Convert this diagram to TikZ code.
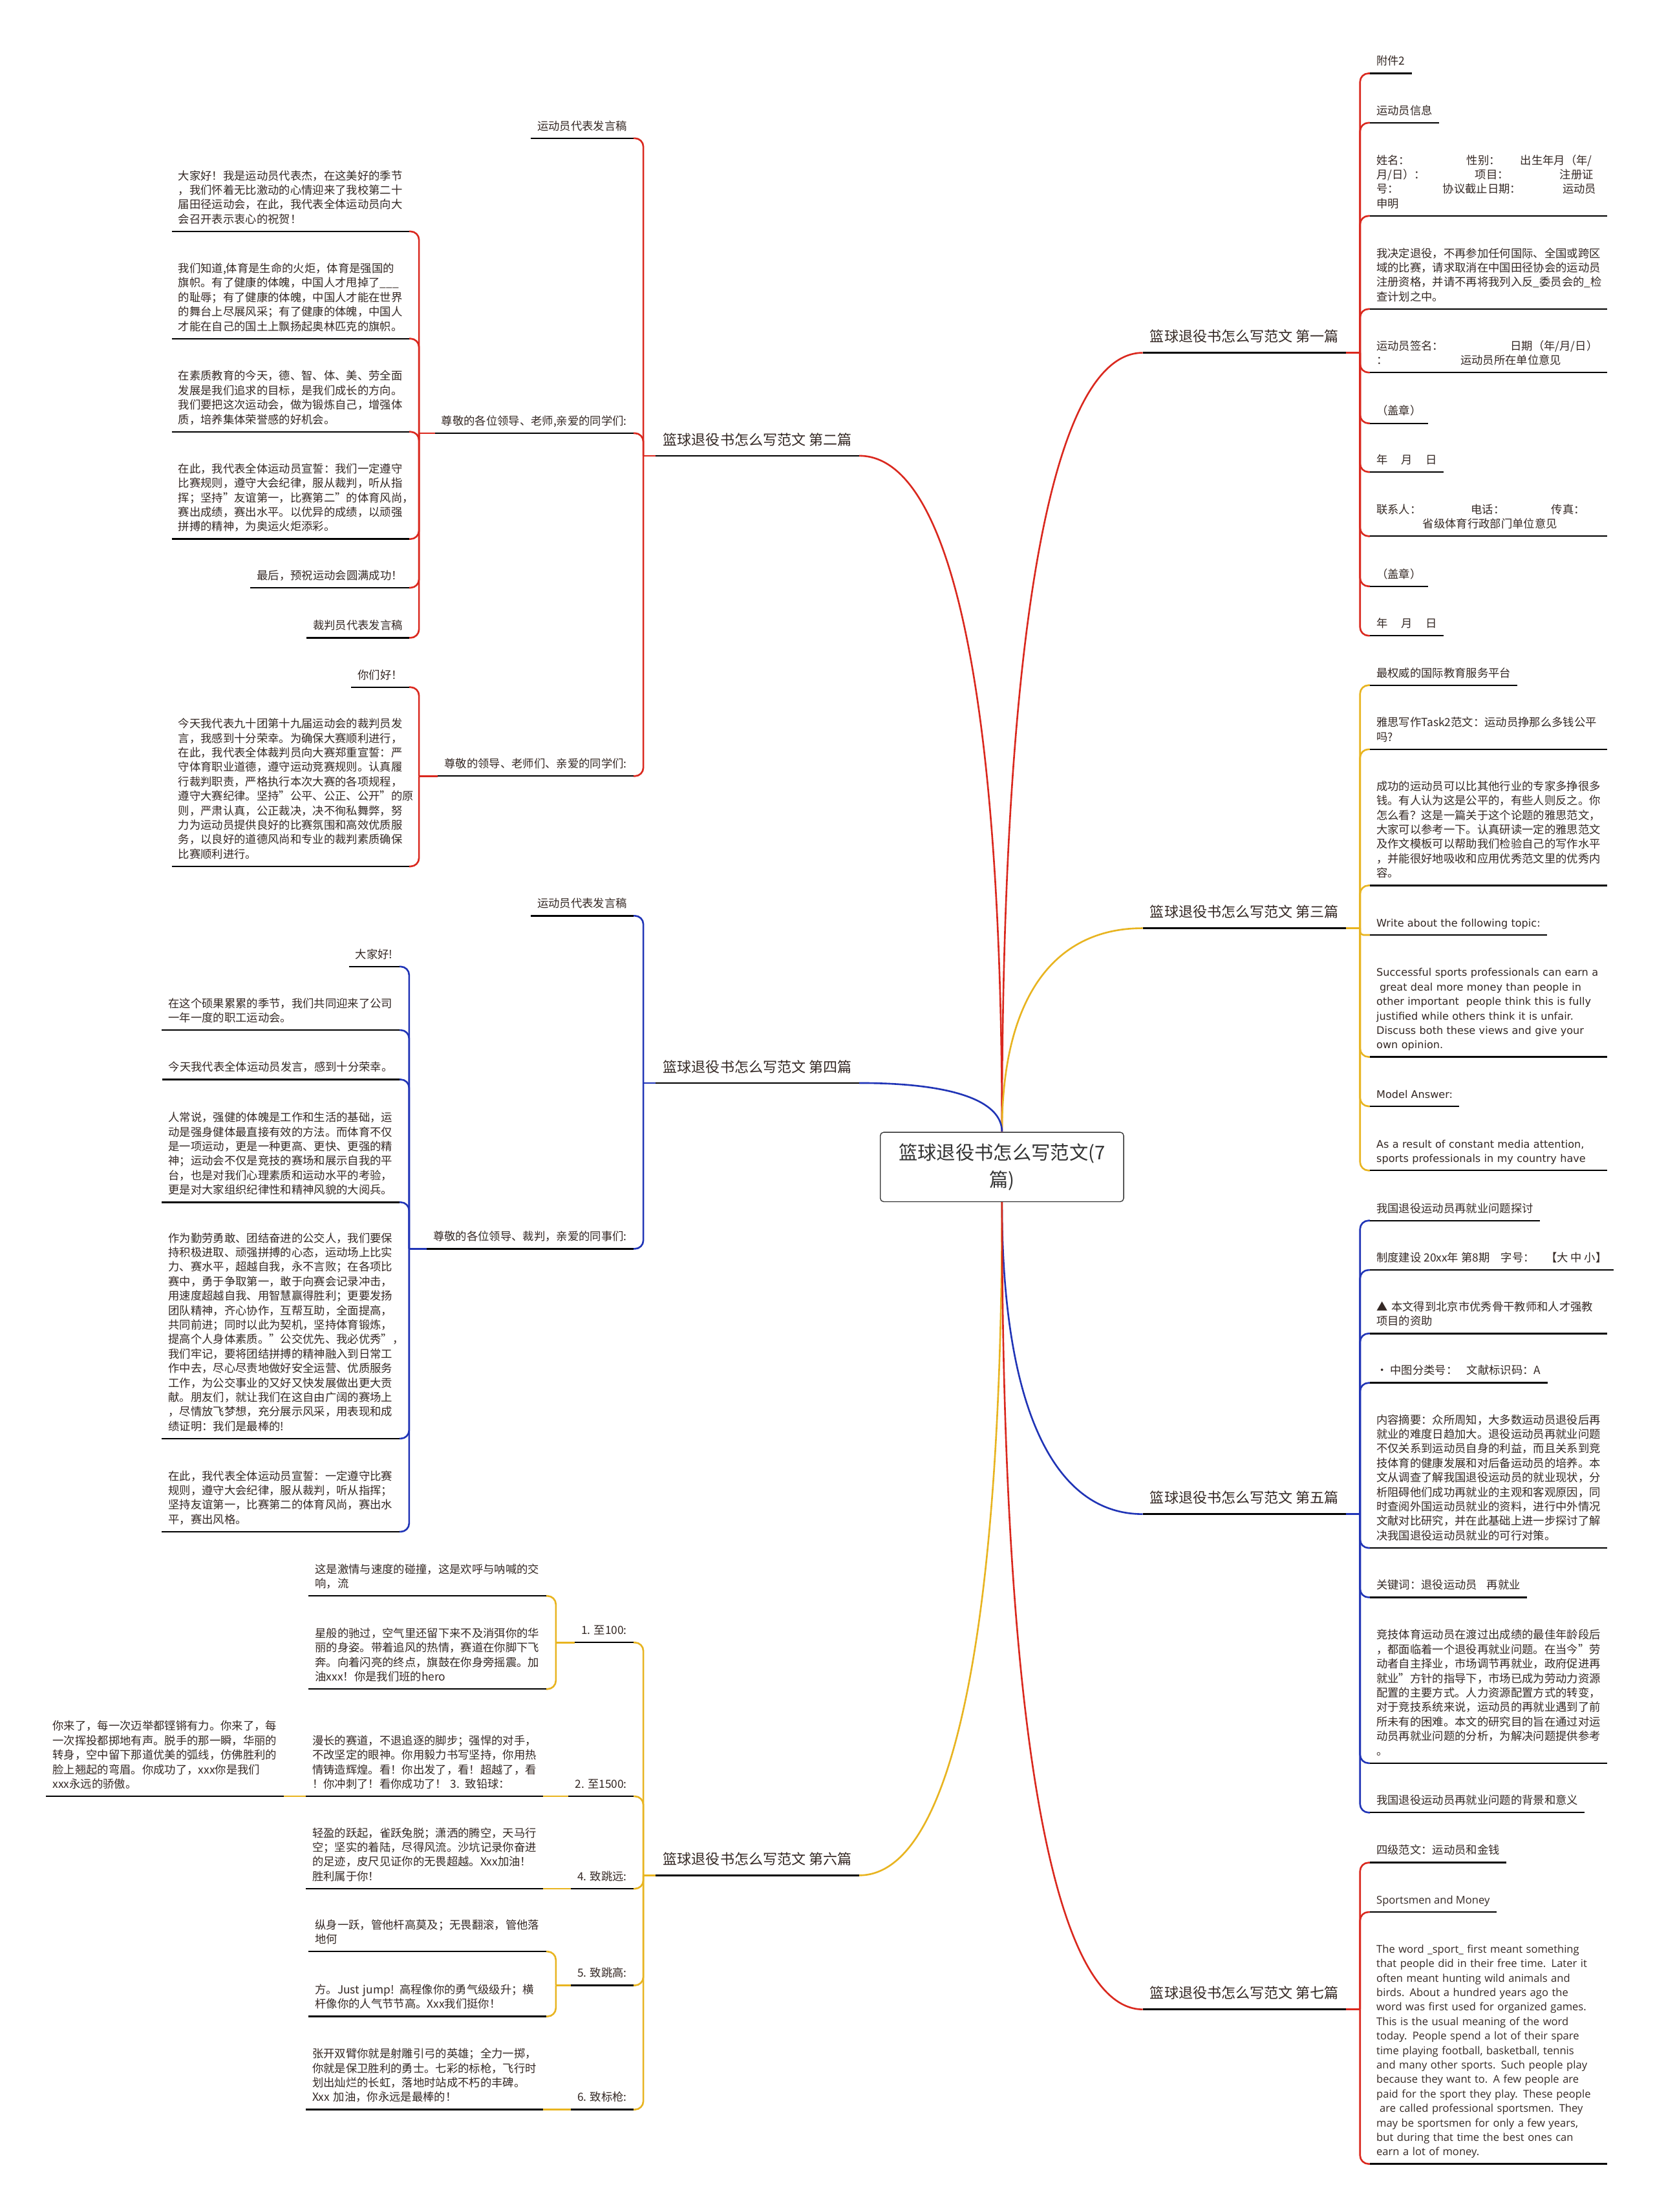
\documentclass[tikz,border=0pt]{standalone}
\usepackage{fontspec}
\setmainfont{Noto Sans CJK SC}
\newfontfamily\verd{DejaVu Sans}
\newfontfamily\opsans{Open Sans}
\usetikzlibrary{calc}
\definecolor{txt}{RGB}{52,40,36}
\definecolor{rd}{RGB}{218,40,30}
\definecolor{yl}{RGB}{232,180,32}
\definecolor{bl}{RGB}{32,52,182}
\tikzset{
  leaf/.style={inner xsep=2.25mm, inner ysep=3.7pt, align=left, text=txt,
    font=\fontsize{11.3pt}{14.6pt}\selectfont, execute at end node=\strut},
  blk/.style={leaf, text width=79.5mm},
  sec/.style={leaf, inner xsep=2.5mm, inner ysep=5.6pt, font=\fontsize{14.4pt}{17.3pt}\selectfont},
  enA/.style={font=\verd\fontsize{10.5pt}{14.6pt}\selectfont},
  enB/.style={font=\opsans\fontsize{10.8pt}{14.6pt}\selectfont, execute at begin node={\hyphenpenalty=10000\relax}},
  ul/.style={draw=black, line width=0.55mm},
  redln/.style={draw=rd, line width=0.6mm, rounded corners=3mm},
  yelln/.style={draw=yl, line width=0.6mm, rounded corners=3mm},
  bluln/.style={draw=bl, line width=0.6mm, rounded corners=3mm},
  trunk/.style={to path={.. controls ($(\tikztostart)!.64!(\tikztostart|-\tikztotarget)$) and ($(\tikztostart|-\tikztotarget)!.35!(\tikztotarget)$) .. (\tikztotarget)}}
}
\begin{document}
\begin{tikzpicture}[x=0.5mm,y=-0.5mm]
\fill[white] (0,0) rectangle (1173,1567.6);
\useasboundingbox (0,0) rectangle (1173,1567.6);

\node[draw=black!80, line width=0.3mm, rounded corners=1.2mm, fill=white, minimum width=86.25mm, minimum height=24.6mm,
  align=center, text=black!80, font=\fontsize{19.1pt}{27pt}\selectfont] (c) at (710.2,827) {篮球退役书怎么写范文(7\\篇)};

\node[sec, anchor=south west] (p1) at (810,250) {篮球退役书怎么写范文 第一篇};
\node[sec, anchor=south east] (p2) at (609,323) {篮球退役书怎么写范文 第二篇};
\node[sec, anchor=south west] (p3) at (810,657.8) {篮球退役书怎么写范文 第三篇};
\node[sec, anchor=south east] (p4) at (609,767.5) {篮球退役书怎么写范文 第四篇};
\node[sec, anchor=south west] (p5) at (810,1073) {篮球退役书怎么写范文 第五篇};
\node[sec, anchor=south east] (p6) at (609,1329) {篮球退役书怎么写范文 第六篇};
\node[sec, anchor=south west] (p7) at (810,1424) {篮球退役书怎么写范文 第七篇};

\node[leaf, anchor=south west] (p1a) at (971,52) {附件2};
\node[leaf, anchor=south west] (p1b) at (971,87) {运动员信息};
\node[blk, anchor=south west] (p1c) at (971,153) {\makebox[32mm][l]{姓名：}\makebox[19mm][l]{性别：}出生年月（年/\\\makebox[35mm][l]{月/日）：}\makebox[30mm][l]{项目：}注册证\\\makebox[23.5mm][l]{号：}\makebox[42.5mm][l]{协议截止日期：}运动员\\申明};
\node[blk, anchor=south west] (p1d) at (971,219) {我决定退役，不再参加任何国际、全国或跨区\\域的比赛，请求取消在中国田径协会的运动员\\注册资格，并请不再将我列入反\_委员会的\_检\\查计划之中。};
\node[blk, anchor=south west] (p1e) at (971,264) {\makebox[47.5mm][l]{运动员签名：}日期（年/月/日）\\\makebox[29.8mm][l]{：}运动员所在单位意见};
\node[leaf, anchor=south west] (p1f) at (971,300) {（盖章）};
\node[leaf, anchor=south west] (p1g) at (971,334.5) {年\hspace{1.2em}月\hspace{1.2em}日};
\node[blk, anchor=south west] (p1h) at (971,380) {\makebox[33.5mm][l]{联系人：}\makebox[28.5mm][l]{电话：}传真：\\\hspace*{16.4mm}省级体育行政部门单位意见};
\node[leaf, anchor=south west] (p1i) at (971,415.5) {（盖章）};
\node[leaf, anchor=south west] (p1j) at (971,450.5) {年\hspace{1.2em}月\hspace{1.2em}日};

\node[leaf, anchor=south west] (p3a) at (971,485.6) {最权威的国际教育服务平台};
\node[blk, anchor=south west] (p3b) at (971,531) {雅思写作Task2范文：运动员挣那么多钱公平\\吗?};
\node[blk, anchor=south west] (p3c) at (971,627.5) {成功的运动员可以比其他行业的专家多挣很多\\钱。有人认为这是公平的，有些人则反之。你\\怎么看？这是一篇关于这个论题的雅思范文，\\大家可以参考一下。认真研读一定的雅思范文\\及作文模板可以帮助我们检验自己的写作水平\\，并能很好地吸收和应用优秀范文里的优秀内\\容。};
\node[leaf, enA, anchor=south west] (p3d) at (971,662.6) {Write about the following topic:};
\node[blk, enA, anchor=south west] (p3e) at (971,749) {Successful sports professionals can earn a\\\hspace*{0.3em}great deal more money than people in\\other important\ \ people think this is fully\\justified while others think it is unfair.\\Discuss both these views and give your\\own opinion.};
\node[leaf, enA, anchor=south west] (p3f) at (971,784) {Model Answer:};
\node[blk, enA, anchor=south west] (p3g) at (971,829.5) {As a result of constant media attention,\\sports professionals in my country have};

\node[leaf, anchor=south west] (p5a) at (971,865) {我国退役运动员再就业问题探讨};
\node[leaf, anchor=south west] (p5b) at (971,900) {制度建设 20xx年 第8期\quad 字号：\quad【大 中 小】};
\node[blk, anchor=south west] (p5c) at (971,945) {▲ 本文得到北京市优秀骨干教师和人才强教\\项目的资助};
\node[leaf, anchor=south west] (p5d) at (971,980) {\makebox[32mm][l]{• 中图分类号：}文献标识码：A};
\node[blk, anchor=south west] (p5e) at (971,1097) {内容摘要：众所周知，大多数运动员退役后再\\就业的难度日趋加大。退役运动员再就业问题\\不仅关系到运动员自身的利益，而且关系到竞\\技体育的健康发展和对后备运动员的培养。本\\文从调查了解我国退役运动员的就业现状，分\\析阻碍他们成功再就业的主观和客观原因，同\\时查阅外国运动员就业的资料，进行中外情况\\文献对比研究，并在此基础上进一步探讨了解\\决我国退役运动员就业的可行对策。};
\node[leaf, anchor=south west] (p5f) at (971,1132) {关键词：退役运动员\hspace{0.85em}再就业};
\node[blk, anchor=south west] (p5g) at (971,1249.5) {竞技体育运动员在渡过出成绩的最佳年龄段后\\，都面临着一个退役再就业问题。在当今"劳\\动者自主择业，市场调节再就业，政府促进再\\就业"方针的指导下，市场已成为劳动力资源\\配置的主要方式。人力资源配置方式的转变，\\对于竞技系统来说，运动员的再就业遇到了前\\所未有的困难。本文的研究目的旨在通过对运\\动员再就业问题的分析，为解决问题提供参考\\。};
\node[leaf, anchor=south west] (p5h) at (971,1284.5) {我国退役运动员再就业问题的背景和意义};

\node[leaf, anchor=south west] (p7a) at (971,1320) {四级范文：运动员和金钱};
\node[leaf, enB, anchor=south west] (p7b) at (971,1355) {Sportsmen and Money};
\node[blk, enB, anchor=south west] (p7c) at (971,1533.5) {The word \_sport\_ first meant something\\that people did in their free time. Later it\\often meant hunting wild animals and\\birds. About a hundred years ago the\\word was first used for organized games.\\This is the usual meaning of the word\\today. People spend a lot of their spare\\time playing football, basketball, tennis\\and many other sports. Such people play\\because they want to. A few people are\\paid for the sport they play. These people\\\hspace*{0.3em}are called professional sportsmen. They\\may be sportsmen for only a few years,\\but during that time the best ones can\\earn a lot of money.};

\node[leaf, anchor=south east] (p2a) at (449,98) {运动员代表发言稿};
\node[leaf, anchor=south east] (p2b) at (449,307) {尊敬的各位领导、老师,亲爱的同学们:};
\node[leaf, anchor=south east] (p2c) at (449,550) {尊敬的领导、老师们、亲爱的同学们:};
\node[blk, anchor=south east] (p2ba) at (290,164) {大家好！我是运动员代表杰，在这美好的季节\\，我们怀着无比激动的心情迎来了我校第二十\\届田径运动会，在此，我代表全体运动员向大\\会召开表示衷心的祝贺！};
\node[blk, anchor=south east] (p2bb) at (290,240) {我们知道,体育是生命的火炬，体育是强国的\\旗帜。有了健康的体魄，中国人才甩掉了\_\_\_\\的耻辱；有了健康的体魄，中国人才能在世界\\的舞台上尽展风采；有了健康的体魄，中国人\\才能在自己的国土上飘扬起奥林匹克的旗帜。};
\node[blk, anchor=south east] (p2bc) at (290,306) {在素质教育的今天，德、智、体、美、劳全面\\发展是我们追求的目标，是我们成长的方向。\\我们要把这次运动会，做为锻炼自己，增强体\\质，培养集体荣誉感的好机会。};
\node[blk, anchor=south east] (p2bd) at (290,382) {在此，我代表全体运动员宣誓：我们一定遵守\\比赛规则，遵守大会纪律，服从裁判，听从指\\挥；坚持"友谊第一，比赛第二"的体育风尚，\\赛出成绩，赛出水平。以优异的成绩，以顽强\\拼搏的精神，为奥运火炬添彩。};
\node[leaf, anchor=south east] (p2be) at (290,416.5) {最后，预祝运动会圆满成功！};
\node[leaf, anchor=south east] (p2bf) at (290,452) {裁判员代表发言稿};
\node[leaf, anchor=south east] (p2ca) at (290,487) {你们好！};
\node[blk, anchor=south east] (p2cb) at (290,614) {今天我代表九十团第十九届运动会的裁判员发\\言，我感到十分荣幸。为确保大赛顺利进行，\\在此，我代表全体裁判员向大赛郑重宣誓：严\\守体育职业道德，遵守运动竞赛规则。认真履\\行裁判职责，严格执行本次大赛的各项规程，\\遵守大赛纪律。坚持"公平、公正、公开"的原\\则，严肃认真，公正裁决，决不徇私舞弊，努\\力为运动员提供良好的比赛氛围和高效优质服\\务，以良好的道德风尚和专业的裁判素质确保\\比赛顺利进行。};

\node[leaf, anchor=south east] (p4a) at (449,649) {运动员代表发言稿};
\node[leaf, anchor=south east] (p4b) at (449,885) {尊敬的各位领导、裁判，亲爱的同事们:};
\node[leaf, anchor=south east] (p4ba) at (283,685) {大家好!};
\node[blk, anchor=south east] (p4bb) at (283,730) {在这个硕果累累的季节，我们共同迎来了公司\\一年一度的职工运动会。};
\node[leaf, anchor=south east] (p4bc) at (283,765) {今天我代表全体运动员发言，感到十分荣幸。};
\node[blk, anchor=south east] (p4bd) at (283,852) {人常说，强健的体魄是工作和生活的基础，运\\动是强身健体最直接有效的方法。而体育不仅\\是一项运动，更是一种更高、更快、更强的精\\神；运动会不仅是竞技的赛场和展示自我的平\\台，也是对我们心理素质和运动水平的考验，\\更是对大家组织纪律性和精神风貌的大阅兵。};
\node[blk, anchor=south east] (p4be) at (283,1019.5) {作为勤劳勇敢、团结奋进的公交人，我们要保\\持积极进取、顽强拼搏的心态，运动场上比实\\力、赛水平，超越自我，永不言败；在各项比\\赛中，勇于争取第一，敢于向赛会记录冲击，\\用速度超越自我、用智慧赢得胜利；更要发扬\\团队精神，齐心协作，互帮互助，全面提高，\\共同前进；同时以此为契机，坚持体育锻炼，\\提高个人身体素质。"公交优先、我必优秀"，\\我们牢记，要将团结拼搏的精神融入到日常工\\作中去，尽心尽责地做好安全运营、优质服务\\工作，为公交事业的又好又快发展做出更大贡\\献。朋友们，就让我们在这自由广阔的赛场上\\，尽情放飞梦想，充分展示风采，用表现和成\\绩证明：我们是最棒的!};
\node[blk, anchor=south east] (p4bf) at (283,1085.5) {在此，我代表全体运动员宣誓：一定遵守比赛\\规则，遵守大会纪律，服从裁判，听从指挥；\\坚持友谊第一，比赛第二的体育风尚，赛出水\\平，赛出风格。};

\node[leaf, anchor=south east] (p6a) at (449,1164) {1. 至100:};
\node[leaf, anchor=south east] (p6b) at (449,1273) {2. 至1500:};
\node[leaf, anchor=south east] (p6c) at (449,1338.5) {4. 致跳远:};
\node[leaf, anchor=south east] (p6d) at (449,1407) {5. 致跳高:};
\node[leaf, anchor=south east] (p6e) at (449,1495) {6. 致标枪:};
\node[blk, anchor=south east] (p6aa) at (387,1131) {这是激情与速度的碰撞，这是欢呼与呐喊的交\\响，流};
\node[blk, anchor=south east] (p6ab) at (387,1197) {星般的驰过，空气里还留下来不及消弭你的华\\丽的身姿。带着追风的热情，赛道在你脚下飞\\奔。向着闪亮的终点，旗鼓在你身旁摇震。加\\油xxx！你是我们班的hero};
\node[blk, anchor=south east] (p6ba) at (385,1273) {漫长的赛道，不退追逐的脚步；强悍的对手，\\不改坚定的眼神。你用毅力书写坚持，你用热\\情铸造辉煌。看！你出发了，看！超越了，看\\！你冲刺了！看你成功了！ 3. 致铅球：};
\node[blk, anchor=south east] (p6bb) at (201,1273) {你来了，每一次迈举都铿锵有力。你来了，每\\一次挥投都掷地有声。脱手的那一瞬，华丽的\\转身，空中留下那道优美的弧线，仿佛胜利的\\脸上翘起的弯眉。你成功了，xxx你是我们\\xxx永远的骄傲。};
\node[blk, anchor=south east] (p6ca) at (385,1338.5) {轻盈的跃起，雀跃兔脱；潇洒的腾空，天马行\\空；坚实的着陆，尽得风流。沙坑记录你奋进\\的足迹，皮尺见证你的无畏超越。Xxx加油！\\胜利属于你！};
\node[blk, anchor=south east] (p6da) at (387,1383) {纵身一跃，管他杆高莫及；无畏翻滚，管他落\\地何};
\node[blk, anchor=south east] (p6db) at (387,1429) {方。Just jump! 高程像你的勇气级级升；横\\杆像你的人气节节高。Xxx我们挺你！};
\node[blk, anchor=south east] (p6ea) at (385,1495) {张开双臂你就是射雕引弓的英雄；全力一掷，\\你就是保卫胜利的勇士。七彩的标枪，飞行时\\划出灿烂的长虹，落地时站成不朽的丰碑。\\Xxx 加油，你永远是最棒的！};

\coordinate (k1) at (964,250);
\coordinate (k3) at (964,657.8);
\coordinate (k5) at (964,1073);
\coordinate (k7) at (964,1424);
\coordinate (k2) at (456,323);
\coordinate (k4) at (456,767.5);
\coordinate (k6) at (456,1329);
\coordinate (k2b) at (297,307);
\coordinate (k2c) at (297,550);
\coordinate (k4b) at (290,885);
\coordinate (k6a) at (394,1164);
\coordinate (k6d) at (394,1407);

\draw[redln] (c.north) to[trunk] (p1.south west);
\draw[redln] (c.north) to[trunk] (p2.south east);
\draw[yelln] (c.north) to[trunk] (p3.south west);
\draw[bluln] (c.north) to[trunk] (p4.south east);
\draw[bluln] (c.south) to[trunk] (p5.south west);
\draw[yelln] (c.south) to[trunk] (p6.south east);
\draw[redln] (c.south) to[trunk] (p7.south west);

\draw[redln] (p1.south east) -- (k1);
\foreach \n in {a,b,c,d,e,f,g,h,i,j} \draw[redln] (k1) |- (p1\n.south west);
\draw[yelln] (p3.south east) -- (k3);
\foreach \n in {a,b,c,e,f,g} \draw[yelln] (k3) |- (p3\n.south west);
\draw[yelln, rounded corners=1.2mm] (k3) |- (p3d.south west);
\draw[bluln] (p5.south east) -- (k5);
\foreach \n in {a,b,c,d,e,f,g,h} \draw[bluln] (k5) |- (p5\n.south west);
\draw[redln] (p7.south east) -- (k7);
\foreach \n in {a,b,c} \draw[redln] (k7) |- (p7\n.south west);

\draw[redln] (p2.south west) -- (k2);
\foreach \n in {a,b,c} \draw[redln] (k2) |- (p2\n.south east);
\draw[redln] (p2b.south west) -- (k2b);
\foreach \n in {a,b,c,d,e,f} \draw[redln] (k2b) |- (p2b\n.south east);
\draw[redln] (p2c.south west) -- (k2c);
\foreach \n in {a,b} \draw[redln] (k2c) |- (p2c\n.south east);

\draw[bluln] (p4.south west) -- (k4);
\foreach \n in {a,b} \draw[bluln] (k4) |- (p4\n.south east);
\draw[bluln] (p4b.south west) -- (k4b);
\foreach \n in {a,b,c,d,e,f} \draw[bluln] (k4b) |- (p4b\n.south east);

\draw[yelln] (p6.south west) -- (k6);
\foreach \n in {a,b,c,d,e} \draw[yelln] (k6) |- (p6\n.south east);
\draw[yelln] (p6a.south west) -- (k6a);
\foreach \n in {a,b} \draw[yelln] (k6a) |- (p6a\n.south east);
\draw[yelln] (p6d.south west) -- (k6d);
\foreach \n in {a,b} \draw[yelln] (k6d) |- (p6d\n.south east);
\draw[yelln] (p6b.south west) -- (p6ba.south east);
\draw[yelln] (p6ba.south west) -- (p6bb.south east);
\draw[yelln] (p6c.south west) -- (p6ca.south east);
\draw[yelln] (p6e.south west) -- (p6ea.south east);

\foreach \n in {p1,p2,p3,p4,p5,p6,p7,
  p1a,p1b,p1c,p1d,p1e,p1f,p1g,p1h,p1i,p1j,
  p3a,p3b,p3c,p3d,p3e,p3f,p3g,
  p5a,p5b,p5c,p5d,p5e,p5f,p5g,p5h,
  p7a,p7b,p7c,
  p2a,p2b,p2c,p2ba,p2bb,p2bc,p2bd,p2be,p2bf,p2ca,p2cb,
  p4a,p4b,p4ba,p4bb,p4bc,p4bd,p4be,p4bf,
  p6a,p6b,p6c,p6d,p6e,p6aa,p6ab,p6ba,p6bb,p6ca,p6da,p6db,p6ea}
  \draw[ul] (\n.south west) -- (\n.south east);
\end{tikzpicture}
\end{document}
